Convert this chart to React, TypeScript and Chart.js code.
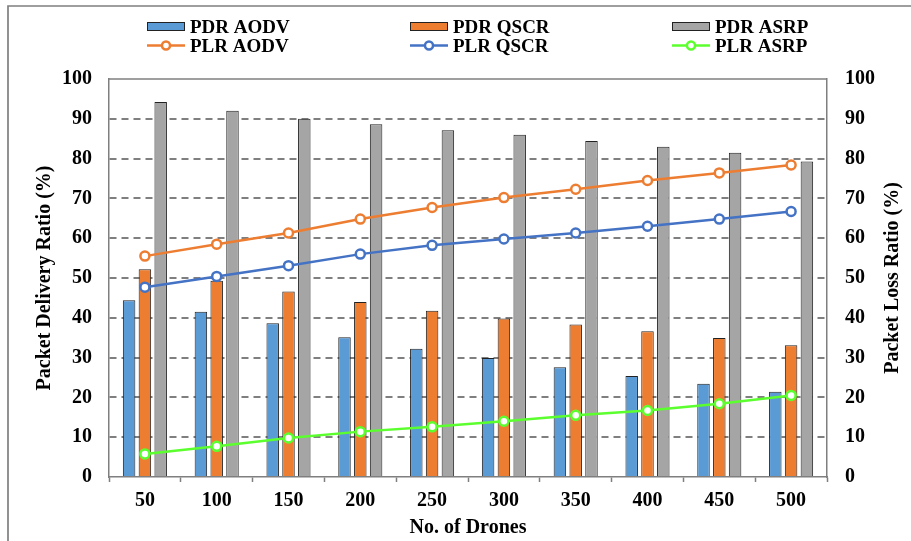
import React, { useEffect, useRef } from 'react';
import { Chart, registerables } from 'chart.js';

Chart.register(...registerables);

const categories = ['50', '100', '150', '200', '250', '300', '350', '400', '450', '500'];
const pdrAodv = [44.4, 41.5, 38.6, 35.1, 32.2, 29.9, 27.6, 25.4, 23.4, 21.4];
const pdrQscr = [52.2, 49.3, 46.6, 44.0, 41.8, 39.8, 38.3, 36.6, 34.9, 33.1];
const pdrAsrp = [94.2, 92.0, 90.0, 88.6, 87.1, 86.0, 84.4, 83.0, 81.5, 79.3];
const plrAodv = [55.5, 58.5, 61.3, 64.8, 67.7, 70.2, 72.3, 74.5, 76.4, 78.4];
const plrQscr = [47.7, 50.4, 53.1, 56.0, 58.2, 59.8, 61.3, 63.0, 64.8, 66.7];
const plrAsrp = [5.8, 7.7, 9.8, 11.4, 12.6, 14.0, 15.5, 16.7, 18.4, 20.5];
const axisMin = 0;
const axisMax = 100;
const axisStep = 10;
const rightTitle = 'Packet Loss Ratio (%)';

const FONT = "'Liberation Serif', 'Times New Roman', serif";
const GRAY = '#7f7f7f';

const legendPlugin = {
  id: 'customLegend',
  afterDraw(chart: any) {
    const ctx = chart.ctx;
    const ds = chart.data.datasets;
    const cols = [147, 410, 672];
    ctx.save();
    // outer frame
    ctx.strokeStyle = GRAY;
    ctx.lineWidth = 1.7;
    ctx.beginPath();
    ctx.moveTo(8, 541);
    ctx.lineTo(8, 6);
    ctx.lineTo(911, 6);
    ctx.stroke();
    // top border of plot
    const a = chart.chartArea;
    ctx.lineWidth = 1.5;
    ctx.beginPath();
    ctx.moveTo(a.left, a.top);
    ctx.lineTo(a.right, a.top);
    ctx.stroke();

    // right axis title (reads bottom to top)
    ctx.save();
    ctx.translate(893, (a.top + a.bottom) / 2);
    ctx.rotate(-Math.PI / 2);
    ctx.font = `bold 20px ${FONT}`;
    ctx.fillStyle = '#000';
    ctx.textAlign = 'center';
    ctx.textBaseline = 'middle';
    ctx.fillText(rightTitle, 0, 0);
    ctx.restore();

    ctx.font = `bold 19px ${FONT}`;
    ctx.textBaseline = 'alphabetic';
    ctx.textAlign = 'left';
    for (let i = 0; i < 6; i++) {
      const d = ds[i];
      const row = i < 3 ? 0 : 1;
      const x = cols[i % 3];
      if (row === 0) {
        ctx.fillStyle = d.backgroundColor;
        ctx.fillRect(x, 22, 38, 9);
        ctx.strokeStyle = '#222';
        ctx.lineWidth = 1;
        ctx.strokeRect(x + 0.5, 22.5, 37, 8);
        ctx.fillStyle = '#000';
        ctx.fillText(d.label, x + 43, 32.5);
      } else {
        const y = 45.5;
        ctx.strokeStyle = d.borderColor;
        ctx.lineWidth = 2.5;
        ctx.beginPath();
        ctx.moveTo(x, y);
        ctx.lineTo(x + 38, y);
        ctx.stroke();
        ctx.beginPath();
        ctx.arc(x + 19, y, 4, 0, Math.PI * 2);
        ctx.fillStyle = '#fff';
        ctx.fill();
        ctx.stroke();
        ctx.fillStyle = '#000';
        ctx.fillText(d.label, x + 43, 51.5);
      }
    }
    ctx.restore();
  },
};

export default function App() {
  const ref = useRef<HTMLCanvasElement>(null);
  useEffect(() => {
    document.body.style.margin = '0';
    document.body.style.overflow = 'hidden';
    const lineDs = (label: string, data: number[], color: string) => ({
      type: 'line' as const,
      label,
      data,
      yAxisID: 'y1',
      borderColor: color,
      backgroundColor: '#fff',
      borderWidth: 2.5,
      pointRadius: 4.5,
      pointBorderWidth: 2.5,
      pointBackgroundColor: '#fff',
      pointBorderColor: color,
      order: 1,
    });
    const barDs = (label: string, data: number[], color: string) => ({
      type: 'bar' as const,
      label,
      data,
      yAxisID: 'y',
      backgroundColor: color,
      borderColor: '#222',
      borderWidth: 1,
      categoryPercentage: 0.66,
      barPercentage: 0.79,
      order: 2,
    });
    const chart = new Chart(ref.current!, {
      type: 'bar',
      data: {
        labels: categories,
        datasets: [
          barDs('PDR AODV', pdrAodv, '#5B9BD5'),
          barDs('PDR QSCR', pdrQscr, '#ED7D31'),
          barDs('PDR ASRP', pdrAsrp, '#A5A5A5'),
          lineDs('PLR AODV', plrAodv, '#ED7D31'),
          lineDs('PLR QSCR', plrQscr, '#4472C4'),
          lineDs('PLR ASRP', plrAsrp, '#5CFF2E'),
        ] as any,
      },
      options: {
        animation: false,
        responsive: false,
        layout: { padding: { top: 79, left: 0, right: 0, bottom: 0 } },
        plugins: { legend: { display: false }, tooltip: { enabled: false } },
        font: { family: FONT },
        scales: {
          x: {
            offset: true,
            grid: {
              offset: true,
              drawOnChartArea: false,
              drawTicks: true,
              tickLength: 5,
              tickColor: GRAY,
              tickWidth: 1.5,
            },
            border: { display: true, color: GRAY, width: 1.5 },
            ticks: { color: '#000', padding: 7, font: { family: FONT, size: 20, weight: 'bold' } },
            title: {
              display: true,
              text: 'No. of Drones',
              color: '#000',
              padding: { top: 0, bottom: 1 },
              font: { family: FONT, size: 20, weight: 'bold' },
            },
            afterFit: (s: any) => { s.height = 64; },
          },
          y: {
            position: 'left',
            min: axisMin,
            max: axisMax,
            ticks: { stepSize: axisStep, color: '#000', padding: 17, font: { family: FONT, size: 20, weight: 'bold' } },
            grid: {
              drawTicks: false,
              lineWidth: 2,
              color: (c: any) => (c.tick && (c.tick.value === axisMin || c.tick.value === axisMax) ? 'rgba(0,0,0,0)' : GRAY),
            },
            border: { display: true, color: GRAY, width: 1.5, dash: [7, 5] },
            title: {
              display: true,
              text: 'Packet Delivery Ratio (%)',
              color: '#000',
              padding: { top: 33, bottom: 0 },
              font: { family: FONT, size: 20, weight: 'bold' },
            },
            afterFit: (s: any) => { s.width = 109; },
          },
          y1: {
            position: 'right',
            min: axisMin,
            max: axisMax,
            ticks: { stepSize: axisStep, color: '#000', padding: 18, font: { family: FONT, size: 20, weight: 'bold' } },
            grid: { display: false, drawTicks: false, drawOnChartArea: false },
            border: { display: true, color: GRAY, width: 1.5 },
            title: { display: false },
            afterFit: (s: any) => { s.width = 84; },
          },
        },
      } as any,
      plugins: [legendPlugin],
    });
    return () => chart.destroy();
  }, []);
  return (
    <div style={{ width: 911, height: 541, position: 'relative' }}>
      <canvas ref={ref} width={911} height={541} style={{ display: 'block' }} />
    </div>
  );
}
